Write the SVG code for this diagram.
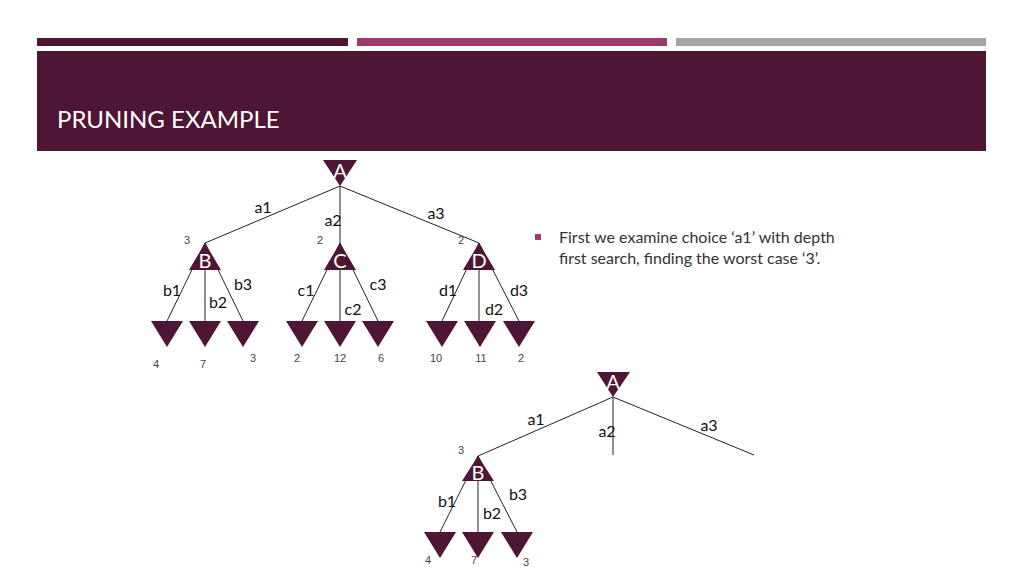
<svg xmlns="http://www.w3.org/2000/svg" width="1024" height="576" viewBox="0 0 1024 576">
<style>
.n{fill:#4f1534}
.l{font-family:Lato,"Liberation Sans",sans-serif;font-size:16px;fill:#111}
.v{font-family:"Liberation Sans",sans-serif;font-size:11px;fill:#444}
.t{font-family:Lato,"Liberation Sans",sans-serif;font-size:20px;fill:#fff}
.e{stroke:#222;stroke-width:1;fill:none}
</style>
<rect width="1024" height="576" fill="#fff"/>
<rect x="37" y="38" width="311" height="8" fill="#4f1534"/>
<rect x="357" y="38" width="310" height="8" fill="#9c3a6c"/>
<rect x="676" y="38" width="310" height="8" fill="#a3a5a8"/>
<rect x="37" y="51" width="949" height="100" fill="#4f1534"/>
<text x="57" y="128" font-family="Lato,'Liberation Sans',sans-serif" font-size="24" fill="#fff">PRUNING EXAMPLE</text>
<rect x="535" y="234" width="6" height="6" fill="#9c3a6c"/>
<text x="559" y="243" font-family="Lato,'Liberation Sans',sans-serif" font-size="16" fill="#333">First we examine choice ‘a1’ with depth</text>
<text x="559" y="264" font-family="Lato,'Liberation Sans',sans-serif" font-size="16" fill="#333">first search, finding the worst case ‘3’.</text>
<g id="connectors" class="e">
<path d="M340 186L205 243M340 186V243M340 186L479 243"/>
<path d="M205 243L167 321M205 243V321M205 243L243 321"/>
<path d="M340 243L302 321M340 243V321M340 243L378 321"/>
<path d="M479 243L442 321M479 243V321M479 243L519 321"/>
<path d="M613 397L478 456M613 397V455M613 397L754 455"/>
<path d="M478 456L440 532M478 456V532M478 456L517 532"/>
</g>
<g id="A1"><path class="n" d="M323 160H357L340 186Z"/><text class="t" x="340" y="178" text-anchor="middle">A</text></g>
<g id="B1"><path class="n" d="M205 243L221 270H189Z"/><text class="t" x="205" y="268" text-anchor="middle">B</text></g>
<g id="C1"><path class="n" d="M340 243L356 270H324Z"/><text class="t" x="340" y="268" text-anchor="middle">C</text></g>
<g id="D1"><path class="n" d="M479 243L495 270H463Z"/><text class="t" x="479" y="268" text-anchor="middle">D</text></g>
<g id="leaves1" class="n">
<path d="M151 321H183L167 347Z"/><path d="M189 321H221L205 347Z"/><path d="M227 321H259L243 347Z"/>
<path d="M286 321H318L302 347Z"/><path d="M324 321H356L340 347Z"/><path d="M362 321H394L378 347Z"/>
<path d="M426 321H458L442 347Z"/><path d="M464 321H496L480 347Z"/><path d="M503 321H535L519 347Z"/>
</g>
<g id="A2"><path class="n" d="M597 372H630L613 397Z"/><text class="t" x="613" y="389" text-anchor="middle">A</text></g>
<g id="B2"><path class="n" d="M478 456L494 481H462Z"/><text class="t" x="478" y="480" text-anchor="middle">B</text></g>
<g id="leaves2" class="n">
<path d="M424 532H456L440 558Z"/><path d="M462 532H494L478 558Z"/><path d="M501 532H533L517 558Z"/>
</g>
<g id="labels">
<text class="l" x="263" y="213" text-anchor="middle">a1</text>
<text class="l" x="333" y="226" text-anchor="middle">a2</text>
<text class="l" x="436" y="219" text-anchor="middle">a3</text>
<text class="l" x="172" y="296" text-anchor="middle">b1</text>
<text class="l" x="218" y="308" text-anchor="middle">b2</text>
<text class="l" x="243" y="290" text-anchor="middle">b3</text>
<text class="l" x="306" y="296" text-anchor="middle">c1</text>
<text class="l" x="353" y="315" text-anchor="middle">c2</text>
<text class="l" x="378" y="290" text-anchor="middle">c3</text>
<text class="l" x="448" y="296" text-anchor="middle">d1</text>
<text class="l" x="494" y="315" text-anchor="middle">d2</text>
<text class="l" x="519" y="296" text-anchor="middle">d3</text>
<text class="l" x="536" y="425" text-anchor="middle">a1</text>
<text class="l" x="607" y="437" text-anchor="middle">a2</text>
<text class="l" x="709" y="431" text-anchor="middle">a3</text>
<text class="l" x="447" y="507" text-anchor="middle">b1</text>
<text class="l" x="492" y="519" text-anchor="middle">b2</text>
<text class="l" x="518" y="500" text-anchor="middle">b3</text>
</g>
<g id="values">
<text class="v" x="187" y="244" text-anchor="middle">3</text>
<text class="v" x="320" y="244" text-anchor="middle">2</text>
<text class="v" x="461" y="244" text-anchor="middle">2</text>
<text class="v" x="156" y="368" text-anchor="middle">4</text>
<text class="v" x="203" y="368" text-anchor="middle">7</text>
<text class="v" x="253" y="362" text-anchor="middle">3</text>
<text class="v" x="297" y="362" text-anchor="middle">2</text>
<text class="v" x="340" y="362" text-anchor="middle">12</text>
<text class="v" x="381" y="362" text-anchor="middle">6</text>
<text class="v" x="436" y="362" text-anchor="middle">10</text>
<text class="v" x="481" y="362" text-anchor="middle">11</text>
<text class="v" x="521" y="362" text-anchor="middle">2</text>
<text class="v" x="461" y="454" text-anchor="middle">3</text>
<text class="v" x="428" y="564" text-anchor="middle">4</text>
<text class="v" x="474" y="564" text-anchor="middle">7</text>
<text class="v" x="526" y="566" text-anchor="middle">3</text>
</g>
</svg>
